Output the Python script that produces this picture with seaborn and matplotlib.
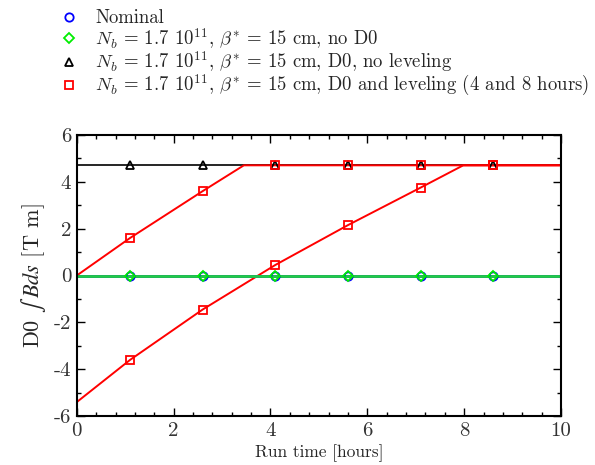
import matplotlib
matplotlib.use("Agg")
import matplotlib.pyplot as plt
import seaborn as sns
import pandas as pd
from matplotlib.ticker import MultipleLocator

sns.set_style("ticks")
plt.rcParams['font.family'] = ['cmr10', 'DejaVu Serif']
plt.rcParams['mathtext.fontset'] = 'cm'
plt.rcParams['axes.unicode_minus'] = False
plt.rcParams['axes.formatter.use_mathtext'] = False

# marker positions (hours)
marker_t = [1.1, 2.6, 4.1, 5.6, 7.1, 8.6]
nominal_y = [0, 0, 0, 0, 0, 0]
nod0_y = [0, 0, 0, 0, 0, 0]
noleveling_y = [4.7, 4.7, 4.7, 4.7, 4.7, 4.7]
lev1_marker_y = [1.6, 3.6, 4.7, 4.7, 4.7, 4.7]
lev2_marker_y = [-3.6, -1.45, 0.45, 2.15, 3.75, 4.7]

# line vertices
flat_t = [0, 10]
zero_line = [0, 0]
d0_line = [4.7, 4.7]
lev1_t = [0, 1.1, 2.6, 3.45, 10]
lev1_y = [0, 1.6, 3.6, 4.7, 4.7]
lev2_t = [0, 1.1, 2.6, 4.1, 5.6, 7.1, 7.98, 10]
lev2_y = [-5.4, -3.6, -1.45, 0.45, 2.15, 3.75, 4.7, 4.7]

labels = [
    "Nominal",
    r"$N_b$ = 1.7 $10^{11}$, $\beta^{*}$ = 15 cm, no D0",
    r"$N_b$ = 1.7 $10^{11}$, $\beta^{*}$ = 15 cm, D0, no leveling",
    r"$N_b$ = 1.7 $10^{11}$, $\beta^{*}$ = 15 cm, D0 and leveling (4 and 8 hours)",
]

fig = plt.figure(figsize=(5.95, 4.65), dpi=100)
ax = fig.add_axes([0.129, 0.105, 0.814, 0.605])

blue = "#0000ff"
green = "#00ee00"
gline = "#22cc44"
red = "#ff0000"

# lines
sns.lineplot(x=flat_t, y=d0_line, ax=ax, color="black", lw=1.2, estimator=None)
sns.lineplot(x=lev1_t, y=lev1_y, ax=ax, color=red, lw=1.4, estimator=None, sort=False)
sns.lineplot(x=lev2_t, y=lev2_y, ax=ax, color=red, lw=1.4, estimator=None, sort=False)
sns.lineplot(x=flat_t, y=zero_line, ax=ax, color=blue, lw=2, estimator=None)
sns.lineplot(x=flat_t, y=zero_line, ax=ax, color=gline, lw=2, estimator=None)

# markers
ms = 6
ax.plot(marker_t, nominal_y, ls="none", marker="o", ms=ms, mfc="none", mec=blue, mew=1.3, label=labels[0])
ax.plot(marker_t, nod0_y, ls="none", marker="D", ms=ms - 0.5, mfc="none", mec=green, mew=1.3, label=labels[1])
ax.plot(marker_t, noleveling_y, ls="none", marker="^", ms=ms, mfc="none", mec="black", mew=1.3, label=labels[2])
ax.plot(marker_t, lev1_marker_y, ls="none", marker="s", ms=ms, mfc="none", mec=red, mew=1.3, label=labels[3])
ax.plot(marker_t, lev2_marker_y, ls="none", marker="s", ms=ms, mfc="none", mec=red, mew=1.3)

ax.set_xlim(0, 10)
ax.set_ylim(-6, 6)
ax.xaxis.set_major_locator(MultipleLocator(2))
ax.xaxis.set_minor_locator(MultipleLocator(0.4))
ax.yaxis.set_major_locator(MultipleLocator(2))
ax.yaxis.set_minor_locator(MultipleLocator(1))
ax.tick_params(which="both", direction="in", top=True, right=True, colors="black", labelcolor="#333333")
ax.tick_params(which="major", length=6, width=1, labelsize=15, pad=4)
ax.tick_params(which="minor", length=3, width=1)
for s in ax.spines.values():
    s.set_color("black")
    s.set_linewidth(1.5)

ax.set_xlabel("Run time [hours]", fontsize=12.5, labelpad=3)
ax.set_ylabel(r"D0 $\int\;Bds$ [T m]", fontsize=16, labelpad=4, math_fontfamily="stix")

handles, lbls = ax.get_legend_handles_labels()
fig.legend(handles, lbls, loc="upper left", bbox_to_anchor=(0.075, 1.012), frameon=False,
           fontsize=13.5, handletextpad=0.9, labelspacing=-0.07, handlelength=1.0, borderpad=0.3)

fig.savefig("out.png", dpi=100)
